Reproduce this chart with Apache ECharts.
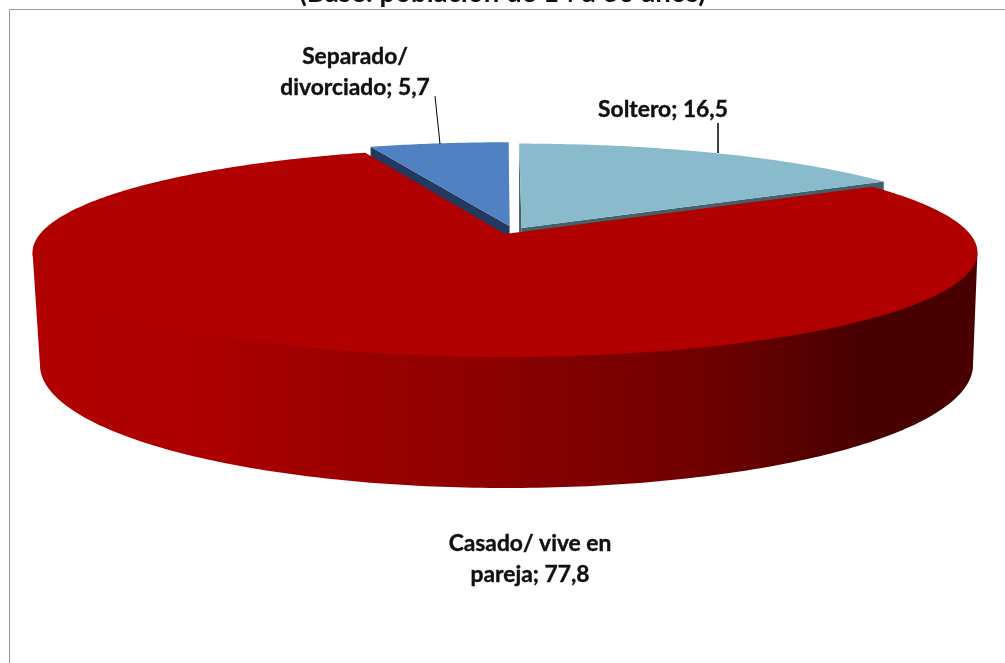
<!DOCTYPE html>
<html>
<head>
<meta charset="utf-8">
<style>html,body{margin:0;padding:0;background:#fff;overflow:hidden}#c{width:1005px;height:663px}</style>
<script src="https://cdn.jsdelivr.net/npm/echarts@6/dist/echarts.min.js"></script>
</head>
<body>
<div id="c"></div>
<script>
// Data
const categories = ['Soltero', 'Casado/ vive en\npareja', 'Separado/\ndivorciado'];
const values = [16.5, 77.8, 5.7];
const titleText = '(Base: población de 14 a 30 años)';

// Styles, kept apart from the data
const topColors = ['#8ABBCD', '#B00000', '#4F81C3'];
const sideColors = ['#44606A', null, '#24395F'];
const explode = [[0.036, -0.061], [0, 0], [0.0095, -0.08]];
const labelAnchors = [[663, 110], [530, 559], [355, 72]];
const leaders = [[[718, 123], [718, 153]], null, [[435, 96], [440, 144]]];

// Projection of the pie plane (perspective view of a tilted disc)
const CX = 505, APEX_Y = 234, R = 465, B = 101.2, K = 0.177;
const LOWER = { cx: 506.5, cy: 365, rx: 466.5, ry: 123 };
const DEPTH = 131;

function project(u, v) {
  const s = 1 / (1 - K * v);
  return [CX + R * u * s, APEX_Y + B * v * s];
}
function onRim(theta, off) {
  return project(Math.sin(theta) + off[0], -Math.cos(theta) + off[1]);
}
function arc(a0, a1, off) {
  const n = Math.max(2, Math.ceil(Math.abs(a1 - a0) * 90));
  const pts = [];
  for (let i = 0; i <= n; i++) pts.push(onRim(a0 + (a1 - a0) * i / n, off));
  return pts;
}

const total = values.reduce((a, b) => a + b, 0);
const sideFill = new echarts.graphic.LinearGradient(0, 0, 1005, 0, [
  { offset: 0.0, color: '#B00000' },
  { offset: 0.2, color: '#AE0000' },
  { offset: 0.3, color: '#A00000' },
  { offset: 0.5, color: '#8A0000' },
  { offset: 0.7, color: '#700000' },
  { offset: 0.86, color: '#480000' },
  { offset: 1.0, color: '#480000' }
], true);

function renderItem(params, api) {
  const i = params.dataIndex;
  const before = values.slice(0, i).reduce((a, b) => a + b, 0);
  const a0 = before / total * Math.PI * 2;
  const a1 = (before + api.value(0)) / total * Math.PI * 2;
  const off = explode[i];
  const apex = project(off[0], off[1]);
  const rim = arc(a0, a1, off);
  const children = [];
  if (sideColors[i]) {
    // Dark cut faces; the red slice drawn afterwards hides most of them
    [rim[0], rim[rim.length - 1]].forEach(function (p) {
      children.push({
        type: 'polygon', z2: 1,
        shape: { points: [apex, p, [p[0], p[1] + DEPTH], [apex[0], apex[1] + DEPTH]] },
        style: { fill: sideColors[i] }
      });
    });
    children.push({
      type: 'polygon', z2: 2,
      shape: { points: [apex].concat(rim) },
      style: { fill: topColors[i] }
    });
  } else {
    // Outer wall seen from the front: its top edge is a chord hidden by the top face
    const tr = Math.acos(-K);
    const wideRight = onRim(tr, off), wideLeft = onRim(Math.PI * 2 - tr, off);
    const lower = [];
    for (let t = 180; t >= 0; t -= 1) {
      const r = t * Math.PI / 180;
      lower.push([LOWER.cx + LOWER.rx * Math.cos(r), LOWER.cy + LOWER.ry * Math.sin(r)]);
    }
    children.push({
      type: 'polygon', z2: 3,
      shape: { points: [wideRight, wideLeft].concat(lower) },
      style: { fill: sideFill }
    });
    children.push({
      type: 'polygon', z2: 4,
      shape: { points: [apex].concat(rim) },
      style: { fill: topColors[i] }
    });
  }
  if (leaders[i]) {
    children.push({
      type: 'line', z2: 5,
      shape: { x1: leaders[i][0][0], y1: leaders[i][0][1], x2: leaders[i][1][0], y2: leaders[i][1][1] },
      style: { stroke: '#000', lineWidth: i === 0 ? 1.5 : 1 }
    });
  }
  children.push({
    type: 'text', z2: 6,
    style: {
      text: categories[i] + '; ' + String(api.value(0)).replace('.', ','),
      x: labelAnchors[i][0], y: labelAnchors[i][1],
      align: 'center', verticalAlign: 'middle',
      fontFamily: 'Lato', fontWeight: 'bold', fontSize: 22.8, lineHeight: 31,
      fill: '#111', stroke: '#111', lineWidth: 0.4
    }
  });
  return { type: 'group', children: children };
}

const chart = echarts.init(document.getElementById('c'), null, { renderer: 'canvas' });
chart.setOption({
  animation: false,
  backgroundColor: '#fff',
  title: {
    text: titleText, left: 'center', top: -21, padding: 0,
    textStyle: { fontFamily: 'Lato', fontWeight: 'bold', fontSize: 27.6, color: '#111' }
  },
  graphic: [{
    type: 'rect', silent: true, z: -1,
    shape: { x: 9.5, y: 9.5, width: 1100, height: 1000 },
    style: { fill: 'none', stroke: '#9A9A9A', lineWidth: 1 }
  }],
  series: [{
    type: 'custom',
    coordinateSystem: 'none',
    renderItem: renderItem,
    data: categories.map((c, i) => ({ name: c, value: [values[i]] }))
  }]
});
</script>
</body>
</html>
